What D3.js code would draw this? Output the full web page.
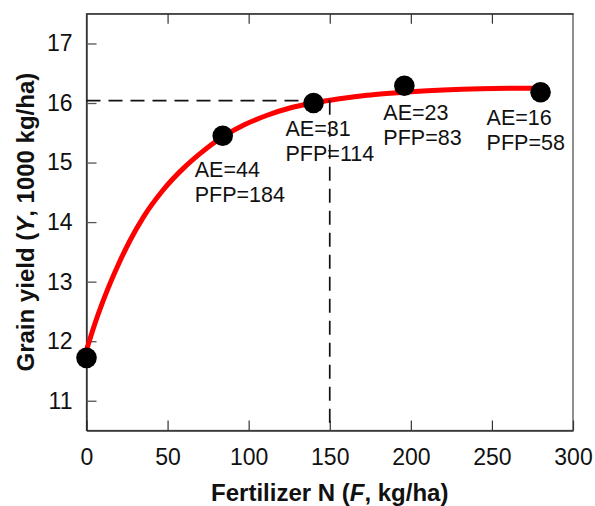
<!DOCTYPE html>
<html>
<head>
<meta charset="utf-8">
<script src="https://cdn.jsdelivr.net/npm/d3@7"></script>
<style>
  html, body { margin: 0; padding: 0; background: #fff; }
  svg { display: block; }
  text { font-family: "Liberation Sans", Arial, Helvetica, sans-serif; fill: #111; }
</style>
</head>
<body>
<svg id="chart" width="595" height="506"></svg>
<script>
// ---- data ----
const pointF = [0, 84, 140, 196, 280];
const pointY = [11.72, 15.45, 16.0, 16.29, 16.18];
const labelAE = ["", "AE=44", "AE=31", "AE=23", "AE=16"];
const labelPFP = ["", "PFP=184", "PFP=114", "PFP=83", "PFP=58"];
const curveF = [0, 5, 10, 15, 20, 27, 35, 47, 60, 70, 78, 97, 111, 126, 140, 156, 173, 185, 200, 220, 243, 280];
const curveY = [11.85, 12.28, 12.66, 13.00, 13.31, 13.70, 14.08, 14.53, 14.91, 15.15, 15.32, 15.63, 15.79, 15.92, 16.00, 16.07, 16.13, 16.16, 16.19, 16.22, 16.24, 16.25];
const refF = 150;
const refY = 16.04;
const xTicks = [0, 50, 100, 150, 200, 250, 300];
const yTicks = [11, 12, 13, 14, 15, 16, 17];
const xDomain = [0, 300];
const yDomain = [10.5, 17.5];

// ---- layout ----
const mLeft = 86.5, mRight = 573, mTop = 13.7, mBottom = 430.5;
const labelOffsets = [null, [-28, 41], [-28, 33], [-21, 34], [-54, 33]];
const lineGap = 25;

const svg = d3.select("#chart");
const x = d3.scaleLinear().domain(xDomain).range([mLeft, mRight]);
const y = d3.scaleLinear().domain(yDomain).range([mBottom, mTop]);

// frame
svg.append("rect")
  .attr("x", mLeft).attr("y", mTop)
  .attr("width", mRight - mLeft).attr("height", mBottom - mTop)
  .attr("fill", "none").attr("stroke", "#555").attr("stroke-width", 1.3);

// bottom axis (inward ticks)
const xAxis = svg.append("g").attr("transform", `translate(0,${mBottom})`)
  .call(d3.axisBottom(x).tickValues(xTicks).tickFormat(d3.format("d"))
    .tickSizeInner(-10).tickSizeOuter(0).tickPadding(18));
xAxis.select(".domain").attr("stroke", "#333").attr("stroke-width", 1.3);
xAxis.selectAll(".tick line").attr("stroke", "#333").attr("stroke-width", 1.2);
xAxis.selectAll(".tick text").attr("font-size", 23).attr("fill", "#111")
  .attr("font-family", "Liberation Sans, Arial, sans-serif").attr("dy", "0.71em");

// top axis ticks only
const xTopAxis = svg.append("g").attr("transform", `translate(0,${mTop})`)
  .call(d3.axisTop(x).tickValues(xTicks.slice(1, -1)).tickSizeInner(-10).tickSizeOuter(0).tickFormat(""));
xTopAxis.select(".domain").attr("stroke", "#333").attr("stroke-width", 1.3);
xTopAxis.selectAll(".tick line").attr("stroke", "#333").attr("stroke-width", 1.2);

// left axis (inward ticks)
const yAxis = svg.append("g").attr("transform", `translate(${mLeft},0)`)
  .call(d3.axisLeft(y).tickValues(yTicks).tickFormat(d3.format("d"))
    .tickSizeInner(-10).tickSizeOuter(0).tickPadding(14));
yAxis.select(".domain").attr("stroke", "#222").attr("stroke-width", 1.3);
yAxis.selectAll(".tick line").attr("stroke", "#555").attr("stroke-width", 1.3);
yAxis.selectAll(".tick text").attr("font-size", 23).attr("fill", "#111")
  .attr("font-family", "Liberation Sans, Arial, sans-serif");

// fitted curve
const line = d3.line().x(d => x(d[0])).y(d => y(d[1])).curve(d3.curveMonotoneX);
svg.append("path")
  .datum(curveF.map((f, i) => [f, curveY[i]]))
  .attr("d", line)
  .attr("fill", "none").attr("stroke", "#ff0000").attr("stroke-width", 5)
  .attr("stroke-linecap", "round");

// annotations
const ann = svg.append("g").attr("font-size", 21.5);
pointF.forEach((f, i) => {
  if (!labelOffsets[i]) return;
  const tx = x(f) + labelOffsets[i][0];
  const ty = y(pointY[i]) + labelOffsets[i][1];
  ann.append("text").attr("x", tx).attr("y", ty).text(labelAE[i]);
  ann.append("text").attr("x", tx).attr("y", ty + lineGap).text(labelPFP[i]);
});

// reference dashed lines
svg.append("path")
  .attr("d", `M${x(0)},${y(refY)}H${x(refF)}`)
  .attr("stroke", "#111").attr("stroke-width", 1.7).attr("fill", "none")
  .attr("stroke-dasharray", "14,8");
svg.append("path")
  .attr("d", `M${x(refF)},${y(refY)}V${mBottom}`)
  .attr("stroke", "#111").attr("stroke-width", 1.7).attr("fill", "none")
  .attr("stroke-dasharray", "14,8");

// points
svg.append("g").selectAll("circle")
  .data(pointF.map((f, i) => [f, pointY[i]]))
  .join("circle")
  .attr("cx", d => x(d[0])).attr("cy", d => y(d[1]))
  .attr("r", 10.3).attr("fill", "#000");

// axis titles
const xt = svg.append("text")
  .attr("x", (mLeft + mRight) / 2).attr("y", 501)
  .attr("text-anchor", "middle").attr("font-size", 24).attr("font-weight", "bold");
xt.append("tspan").text("Fertilizer N (");
xt.append("tspan").attr("font-style", "italic").text("F");
xt.append("tspan").text(", kg/ha)");

const yt = svg.append("text")
  .attr("transform", `translate(34,${(mTop + mBottom) / 2}) rotate(-90)`)
  .attr("text-anchor", "middle").attr("font-size", 24).attr("font-weight", "bold");
yt.append("tspan").text("Grain yield (");
yt.append("tspan").attr("font-style", "italic").text("Y");
yt.append("tspan").text(", 1000 kg/ha)");
</script>
</body>
</html>
